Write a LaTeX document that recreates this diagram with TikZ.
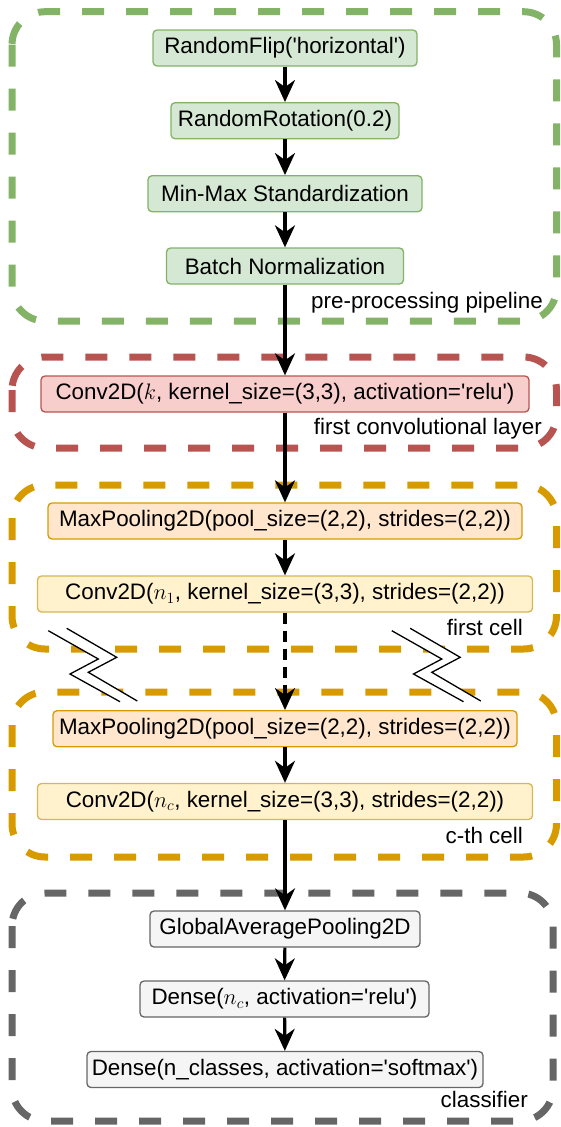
\RequirePackage{fix-cm}
\documentclass[tikz,border=0pt]{standalone}
\usepackage{fontspec}
\setmainfont{Liberation Sans}
\usetikzlibrary{arrows.meta}
\definecolor{gfill}{HTML}{D5E8D4}\definecolor{gline}{HTML}{82B366}
\definecolor{rfill}{HTML}{F8CECC}\definecolor{rline}{HTML}{B85450}
\definecolor{ofill}{HTML}{FFE6CC}\definecolor{oline}{HTML}{D79B00}
\definecolor{yfill}{HTML}{FFF2CC}\definecolor{yline}{HTML}{D6B656}
\definecolor{kfill}{HTML}{F5F5F5}\definecolor{kline}{HTML}{666666}
\newcommand{\q}{\textquotesingle}
\tikzset{
  layer/.style={draw, rounded corners=4pt, line width=1.3pt, inner sep=0pt,
    minimum height=36pt, font=\fontsize{22.4}{26}\selectfont},
  grp/.style={line width=7pt, rounded corners=33pt, dash pattern=on 22pt off 22pt},
  lbl/.style={anchor=base east, inner sep=0pt, font=\fontsize{22.4}{26}\selectfont},
  arr/.style={line width=3.2pt, -{Stealth[length=22pt,width=20pt,inset=7pt]}},
  brk/.style={line width=1.3pt, line join=miter},
}
\begin{document}
\begin{tikzpicture}[x=1pt,y=-1pt]
\useasboundingbox (0,0) rectangle (560,1127);
% containers
\draw[grp, gline] (12,11.7) rectangle (556.5,321);
\draw[grp, rline] (12,357) rectangle (556.5,448);
\draw[grp, oline] (12,485) rectangle (556.5,649);
\draw[grp, oline] (12,692) rectangle (556.5,857);
\draw[grp, kline] (12,893) rectangle (553,1121);
% break symbols
\foreach \s in {0,343.5}{
  \begin{scope}[xshift=\s]
  \fill[white] (48.3,630.7) -- (98.3,659) -- (70,674) -- (120,701.7)
     -- (137.3,701) -- (88.3,672.3) -- (116.7,657.3) -- (66.7,628.3) -- cycle;
  \draw[brk] (48.3,630.7) -- (98.3,659) -- (70,674) -- (120,701.7);
  \draw[brk] (66.7,628.3) -- (116.7,657.3) -- (88.3,672.3) -- (137.3,701);
  \end{scope}
}
% nodes
\node[layer, fill=gfill, draw=gline, minimum width=264pt] (flip) at (285,48) {RandomFlip(\q horizontal\q)};
\node[layer, fill=gfill, draw=gline, minimum width=228pt] (rot) at (285,120.7) {RandomRotation(0.2)};
\node[layer, fill=gfill, draw=gline, minimum width=274pt] (mm) at (285,193.7) {Min-Max Standardization};
\node[layer, fill=gfill, draw=gline, minimum width=237pt] (bn) at (285,266) {Batch Normalization};
\node[layer, fill=rfill, draw=rline, minimum width=488pt] (conv) at (285,394) {Conv2D($k$, kernel\_size=(3,3), activation=\q relu\q)};
\node[layer, fill=ofill, draw=oline, minimum width=474pt] (mp1) at (285,521) {MaxPooling2D(pool\_size=(2,2), strides=(2,2))};
\node[layer, fill=yfill, draw=yline, minimum width=495pt] (c1) at (285,594) {Conv2D($n_1$, kernel\_size=(3,3), strides=(2,2))};
\node[layer, fill=ofill, draw=oline, minimum width=464pt] (mp2) at (285,728.7) {MaxPooling2D(pool\_size=(2,2), strides=(2,2))};
\node[layer, fill=yfill, draw=yline, minimum width=495pt] (cc) at (285,801.5) {Conv2D($n_c$, kernel\_size=(3,3), strides=(2,2))};
\node[layer, fill=kfill, draw=kline, minimum width=270pt] (gap) at (285,929) {GlobalAveragePooling2D};
\node[layer, fill=kfill, draw=kline, minimum width=289pt] (d1) at (284.5,999) {Dense($n_c$, activation=\q relu\q)};
\node[layer, fill=kfill, draw=kline, minimum width=396pt] (d2) at (285,1069.5) {Dense(n\_classes, activation=\q softmax\q)};
% labels
\node[lbl] (l1) at (543,308) {pre-processing pipeline};
\node[lbl] (l2) at (542,434) {first convolutional layer};
\node[lbl] (l3) at (523,635.5) {first cell};
\node[lbl] (l4) at (523,843) {c-th cell};
\node[lbl] (l5) at (528,1107) {classifier};
% arrows
\draw[arr] (flip) -- (rot);
\draw[arr] (rot) -- (mm);
\draw[arr] (mm) -- (bn);
\draw[arr] (bn) -- (conv);
\draw[arr] (conv) -- (mp1);
\draw[arr] (mp1) -- (c1);
\draw[arr, dash pattern=on 11pt off 7pt] (c1) -- (mp2);
\draw[arr] (mp2) -- (cc);
\draw[arr] (cc) -- (gap);
\draw[arr] (gap) -- (d1);
\draw[arr] (d1) -- (d2);
\end{tikzpicture}
\end{document}
